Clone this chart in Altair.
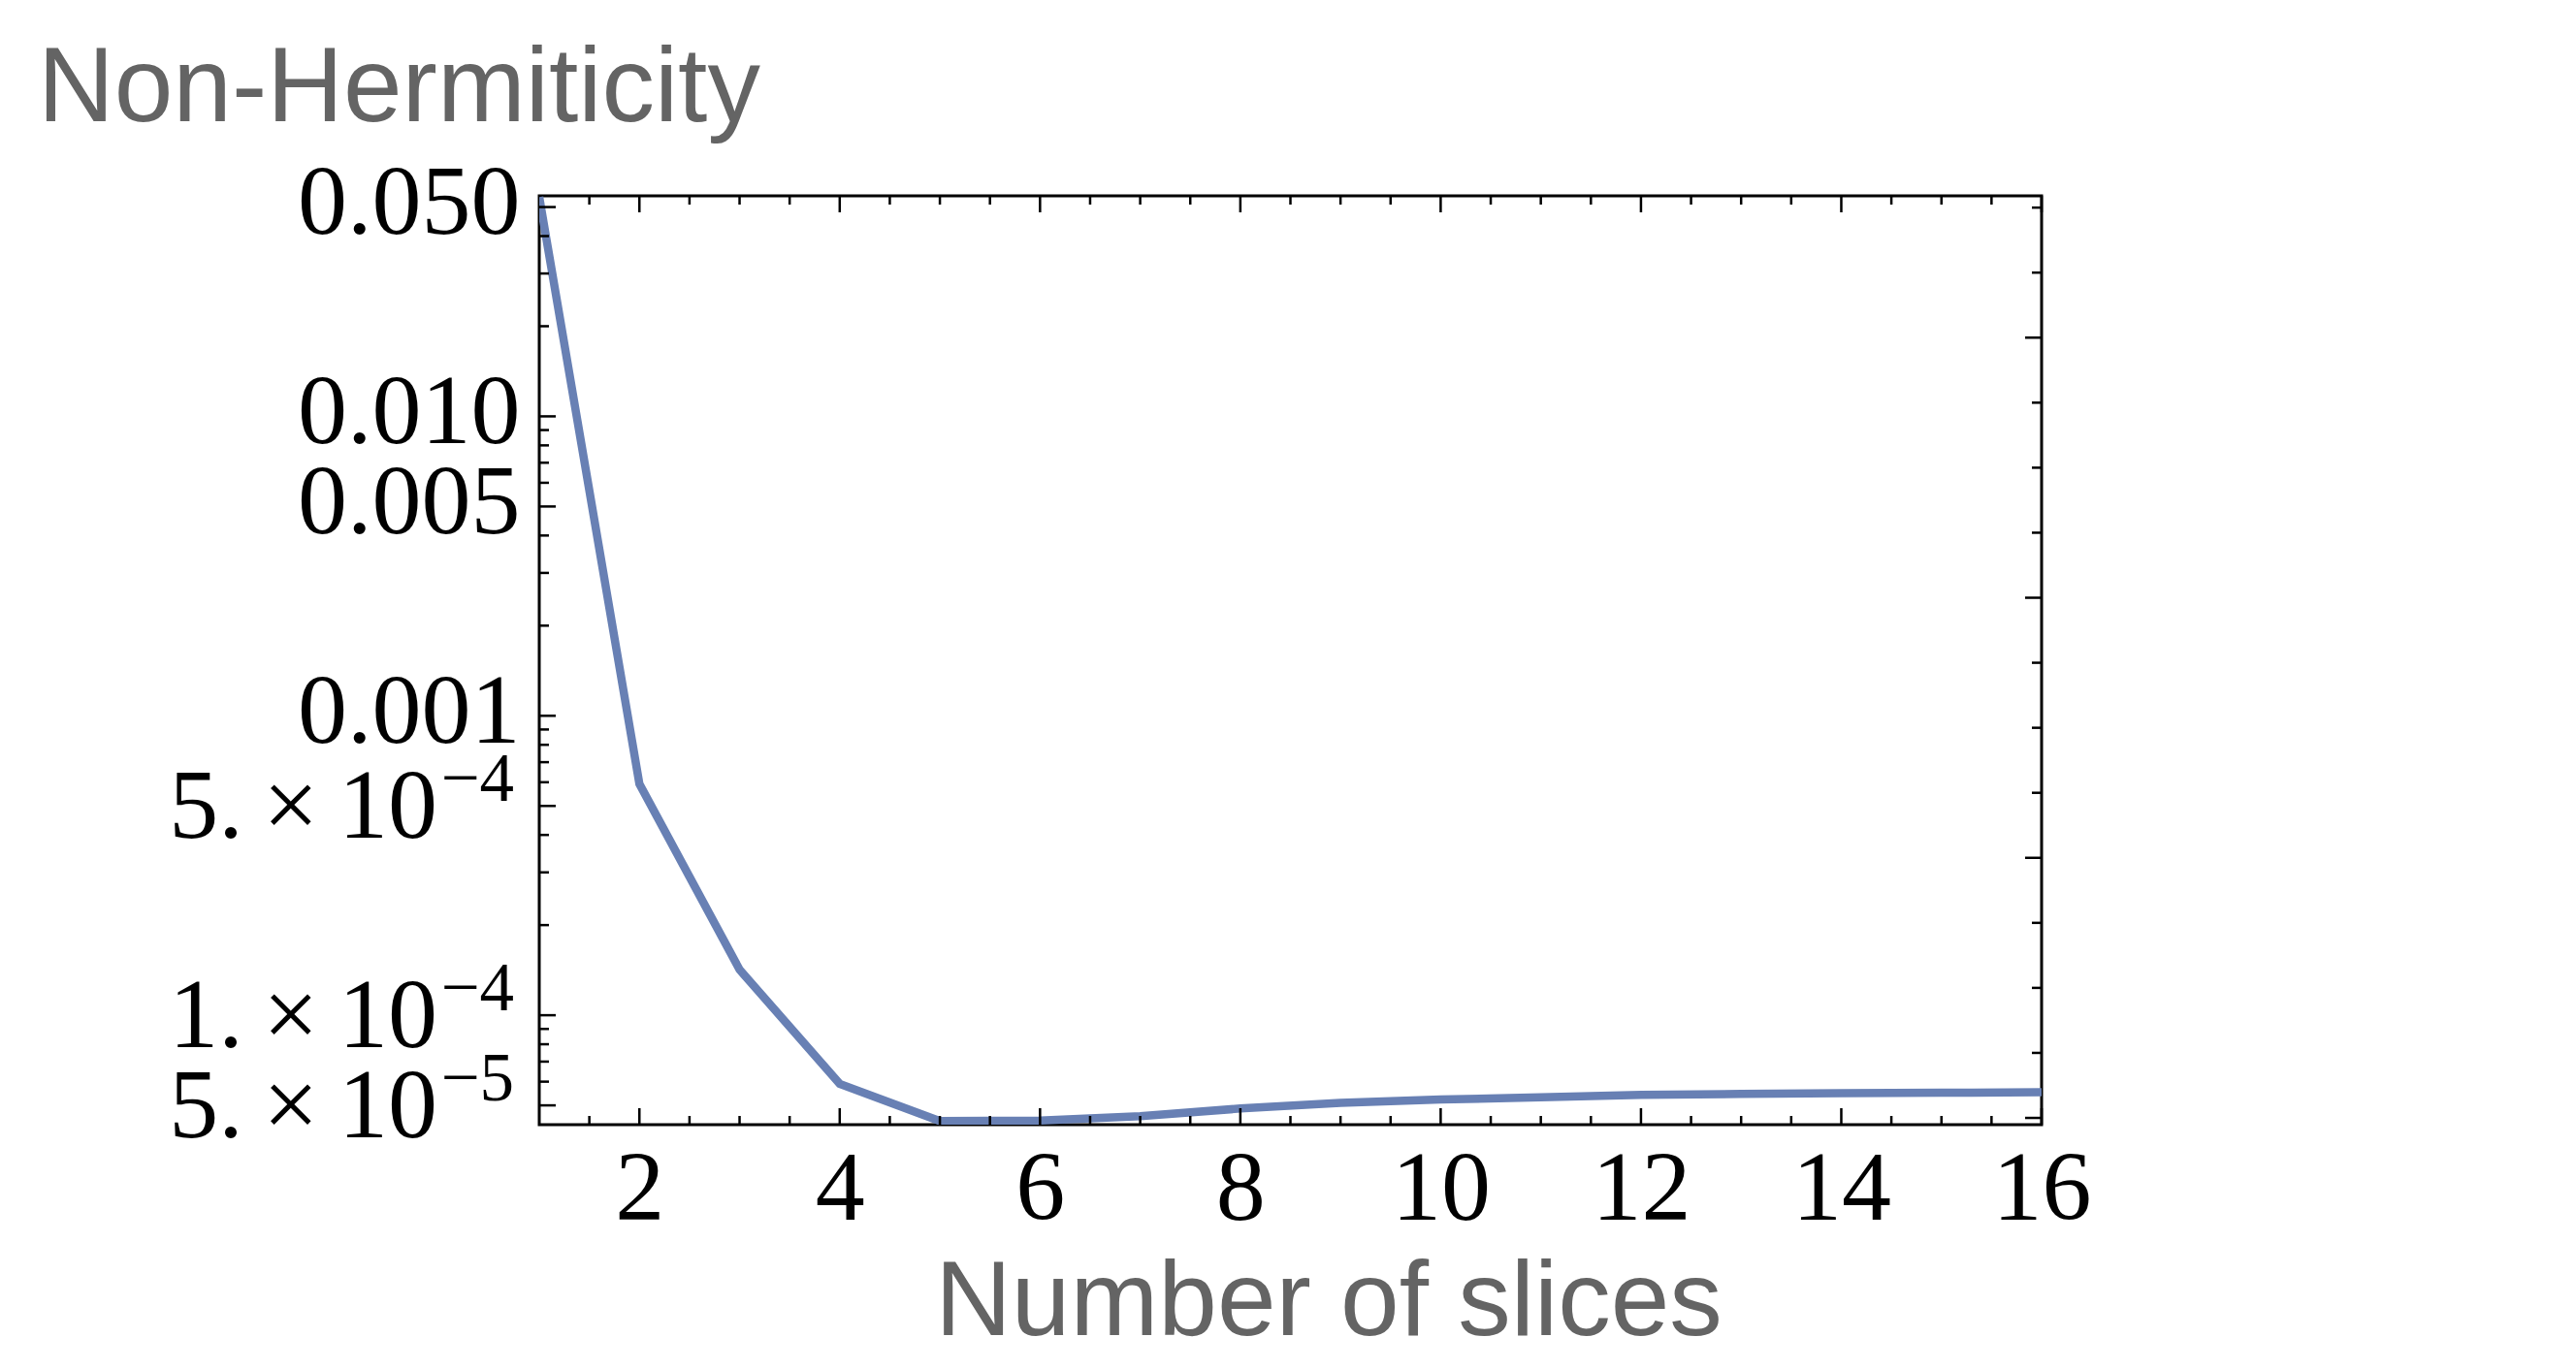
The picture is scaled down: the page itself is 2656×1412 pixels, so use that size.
import math
import altair as alt
import pandas as pd

# ---- data ----
slices = list(range(1, 17))
nonherm = [0.054, 5.92e-4, 1.42e-4, 5.9e-5, 4.43e-5, 4.45e-5, 4.6e-5, 4.88e-5,
           5.1e-5, 5.23e-5, 5.32e-5, 5.42e-5, 5.46e-5, 5.49e-5, 5.51e-5, 5.53e-5]

x_major = [2, 4, 6, 8, 10, 12, 14, 16]
x_minor = [1.5, 2.5, 3, 3.5, 4.5, 5, 5.5, 6.5, 7, 7.5, 8.5, 9, 9.5, 10.5, 11, 11.5,
           12.5, 13, 13.5, 14.5, 15, 15.5]
y_major = [0.05, 0.01, 0.005, 0.001, 5e-4, 1e-4, 5e-5]
y_minor = [0.04, 0.03, 0.02,
           0.009, 0.008, 0.007, 0.006, 0.004, 0.003, 0.002,
           9e-4, 8e-4, 7e-4, 6e-4, 4e-4, 3e-4, 2e-4,
           9e-5, 8e-5, 7e-5, 6e-5]
y_dec_ticks = [0.05, 0.01, 0.005, 0.001]
sci_values = [5e-4, 1e-4, 5e-5]
sci_mant = ["5.\u2009\u00d7\u200910", "1.\u2009\u00d7\u200910", "5.\u2009\u00d7\u200910"]
sci_exp = ["\u22124", "\u22124", "\u22125"]
# right frame ticks: evenly spaced in natural log
right_ln_major = [-4, -6, -8, -10]
right_ln_minor = [-3, -3.5, -4.5, -5, -5.5, -6.5, -7, -7.5, -8.5, -9, -9.5]

W, H = 1549, 958
MAJ, MIN = 17, 10
LINE_COLOR = "#6880B4"

xs = alt.Scale(domain=[1, 16], nice=False, zero=False)
ys = alt.Scale(type="log", domain=[4.31e-5, 0.0545], nice=False)

df = pd.DataFrame({"n": slices, "v": nonherm})

x_axis = alt.Axis(
    values=x_major, title="Number of slices", grid=False, domain=False,
    ticks=False, tickSize=0, labelFont="Liberation Serif", labelFontSize=102,
    labelColor="black", labelBaseline="alphabetic", labelPadding=97,
    labelFlush=False, labelOverlap=False, labelLimit=0,
    titleFont="Liberation Sans", titleFontSize=109, titleFontWeight="normal",
    titleColor="#646464", titleX=813.5, titleY=216.7, titleAlign="center",
    titleBaseline="alphabetic", titleLimit=0,
)
y_axis = alt.Axis(
    values=y_dec_ticks, labelExpr="format(datum.value, '.3f')",
    title="Non-Hermiticity", grid=False, domain=False, ticks=False, tickSize=0,
    labelFont="Liberation Serif", labelFontSize=102, labelColor="black",
    labelBaseline="alphabetic", labelOffset=27, labelPadding=20,
    labelFlush=False, labelOverlap=False, labelLimit=0,
    titleFont="Liberation Sans", titleFontSize=109, titleFontWeight="normal",
    titleColor="#646464", titleAngle=0, titleX=-517.5, titleY=-78,
    titleAlign="left", titleBaseline="alphabetic", titleLimit=0,
)

line = alt.Chart(df).mark_line(color=LINE_COLOR, strokeWidth=8.5, clip=True).encode(
    x=alt.X("n:Q", scale=xs, axis=x_axis, title="Number of slices"),
    y=alt.Y("v:Q", scale=ys, axis=y_axis, title="Non-Hermiticity"),
)


def xticks(vals, y0, y1):
    return alt.Chart(pd.DataFrame({"n": vals})).mark_rule(color="black", strokeWidth=2.5).encode(
        x=alt.X("n:Q", scale=xs, axis=x_axis, title="Number of slices"),
        y=alt.value(y0), y2=alt.value(y1))


def yticks(vals, x0, x1):
    return alt.Chart(pd.DataFrame({"v": vals})).mark_rule(color="black", strokeWidth=2.5).encode(
        y=alt.Y("v:Q", scale=ys, axis=y_axis, title="Non-Hermiticity"),
        x=alt.value(x0), x2=alt.value(x1))


right_major_vals = [math.exp(k) for k in right_ln_major]
right_minor_vals = [math.exp(k) for k in right_ln_minor]

ticks = [
    xticks(x_major, H, H - MAJ), xticks(x_minor, H, H - 9),
    xticks(x_major, 0, MAJ), xticks(x_minor, 0, 9),
    yticks(y_major, 0, MAJ), yticks(y_minor, 0, MIN),
    yticks(right_major_vals, W, W - MAJ), yticks(right_minor_vals, W, W - MIN),
]

sci_df = pd.DataFrame({"v": sci_values, "mant": sci_mant, "ex": sci_exp})
sci_main = alt.Chart(sci_df).mark_text(
    font="Liberation Serif", fontSize=102, color="black", align="right",
    baseline="alphabetic", dy=33).encode(
    y=alt.Y("v:Q", scale=ys, axis=y_axis, title="Non-Hermiticity"),
    x=alt.value(-105), text="mant:N")
sci_sup = alt.Chart(sci_df).mark_text(
    font="Liberation Serif", fontSize=71, color="black", align="right",
    baseline="alphabetic", dy=-5).encode(
    y=alt.Y("v:Q", scale=ys, axis=y_axis, title="Non-Hermiticity"),
    x=alt.value(-26), text="ex:N")

chart = alt.layer(line, *ticks, sci_main, sci_sup).properties(
    width=W, height=H,
    autosize=alt.AutoSizeParams(type="none"),
    padding={"left": 548, "top": 194, "right": 500, "bottom": 240},
    background="white",
).configure_view(stroke="black", strokeWidth=3)

chart.save("out.html", embed_options={"renderer": "svg", "actions": False})
